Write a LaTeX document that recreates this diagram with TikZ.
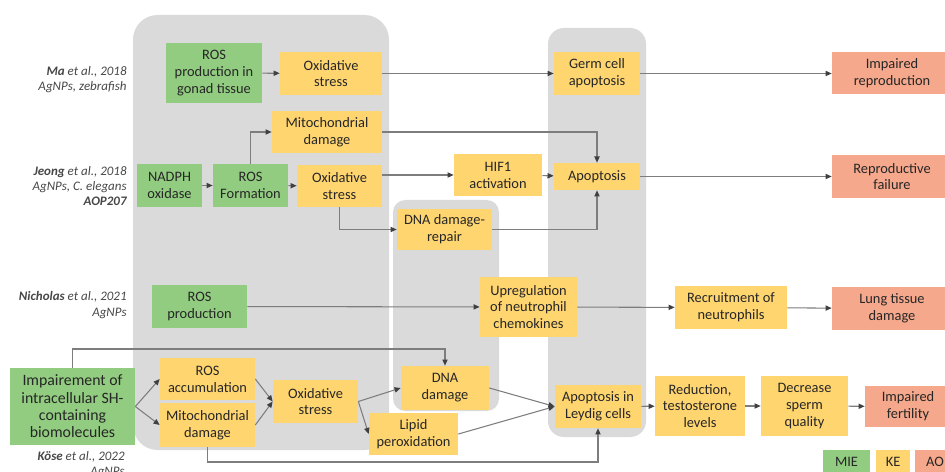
\documentclass[tikz,border=0pt]{standalone}
\usepackage{fontspec}
\setmainfont{Carlito}
\usetikzlibrary{arrows.meta}
\definecolor{miegreen}{RGB}{146,204,128}
\definecolor{keyellow}{RGB}{255,213,112}
\definecolor{aored}{RGB}{245,168,140}
\definecolor{panelgray}{RGB}{218,218,218}
\definecolor{linegray}{RGB}{125,125,125}

\begin{document}
\begin{tikzpicture}[x=0.02cm, y=-0.02cm,
  box/.style={inner sep=0, align=center, font=\fontsize{8.2}{9.6}\selectfont, text=black!85},
  mie/.style={box, fill=miegreen},
  ke/.style={box, fill=keyellow},
  ao/.style={box, fill=aored},
  arr/.style={draw=linegray, line width=0.6pt, -{Triangle[length=3.5pt, width=3pt, color=black!75]}},
  ref/.style={anchor=east, align=right, inner sep=0, font=\fontsize{7.4}{8.6}\selectfont\itshape, text=black!72}]
  \useasboundingbox (0,0) rectangle (945,472);

  % grey panels
  \fill[panelgray, rounded corners=14pt] (133,15) rectangle (389,450);
  \fill[panelgray, rounded corners=7pt] (393,200) rectangle (499,411);
  \fill[panelgray, rounded corners=9pt] (548,28) rectangle (646,437);

  % Ma et al.
  \node[mie, minimum width=1.92cm, minimum height=1.2cm] (rosgonad) at (214,73) {ROS\\production in\\gonad tissue};
  \node[ke, minimum width=2.04cm, minimum height=0.86cm] (oxtop) at (331,73.5) {Oxidative\\stress};
  \node[ke, minimum width=1.72cm, minimum height=0.86cm] (germ) at (597,73.5) {Germ cell\\apoptosis};
  \node[ao, minimum width=2.4cm, minimum height=0.84cm] (impr) at (892,73.5) {Impaired\\reproduction};

  % Jeong et al.
  \node[ke, minimum width=2.2cm, minimum height=0.84cm] (mito) at (327,132) {Mitochondrial\\damage};
  \node[mie, minimum width=1.3cm, minimum height=0.86cm] (nadph) at (169.5,185.5) {NADPH\\oxidase};
  \node[mie, minimum width=1.5cm, minimum height=0.86cm] (rosform) at (250.5,185.5) {ROS\\Formation};
  \node[ke, minimum width=1.7cm, minimum height=0.84cm] (oxmid) at (339.5,186) {Oxidative\\stress};
  \node[ke, minimum width=1.76cm, minimum height=0.84cm] (hif) at (498,175) {HIF1\\activation};
  \node[ke, minimum width=1.72cm, minimum height=0.54cm] (apop) at (597,176.5) {Apoptosis};
  \node[ke, minimum width=1.9cm, minimum height=0.82cm] (dnarep) at (444.5,229.5) {DNA damage-\\repair};
  \node[ao, minimum width=2.4cm, minimum height=0.86cm] (repfail) at (892,176.5) {Reproductive\\failure};

  % Nicholas et al.
  \node[mie, minimum width=1.9cm, minimum height=0.86cm] (rosprod) at (199.5,306.5) {ROS\\production};
  \node[ke, minimum width=1.94cm, minimum height=1.2cm] (upreg) at (528.5,307) {Upregulation\\of neutrophil\\chemokines};
  \node[ke, minimum width=2.24cm, minimum height=0.86cm] (recruit) at (731,307.5) {Recruitment of\\neutrophils};
  \node[ao, minimum width=2.4cm, minimum height=0.86cm] (lung) at (892,308.5) {Lung tissue\\damage};

  % Kose et al.
  \node[mie, minimum width=2.5cm, minimum height=1.54cm, font=\fontsize{9}{9.9}\selectfont] (impair) at (72.5,406.5)
    {Impairement of\\intracellular SH-\\containing\\biomolecules};
  \node[ke, minimum width=1.9cm, minimum height=0.84cm] (rosacc) at (207.5,379) {ROS\\accumulation};
  \node[ke, minimum width=1.9cm, minimum height=0.88cm] (mitob) at (207.5,425) {Mitochondrial\\damage};
  \node[ke, minimum width=1.7cm, minimum height=0.86cm] (oxbot) at (315.5,401.5) {Oxidative\\stress};
  \node[ke, minimum width=1.76cm, minimum height=0.88cm] (dna) at (445,388) {DNA\\damage};
  \node[ke, minimum width=1.78cm, minimum height=0.84cm] (lipid) at (413.5,434) {Lipid\\peroxidation};
  \node[ke, minimum width=1.72cm, minimum height=0.86cm] (leydig) at (598,406.5) {Apoptosis in\\Leydig cells};
  \node[ke, minimum width=1.8cm, minimum height=1.2cm] (reduc) at (700,406) {Reduction,\\testosterone\\levels};
  \node[ke, minimum width=1.74cm, minimum height=1.2cm] (decr) at (804.5,406) {Decrease\\sperm\\quality};
  \node[ao, minimum width=1.72cm, minimum height=0.82cm] (impfert) at (908,406.5) {Impaired\\fertility};

  % legend
  \node[mie, minimum width=0.94cm, minimum height=0.5cm] (legmie) at (846.5,462) {MIE};
  \node[ke, minimum width=0.68cm, minimum height=0.5cm] (legke) at (893,462) {KE};
  \node[ao, minimum width=0.8cm, minimum height=0.5cm] (legao) at (935,462) {AO};

  % references
  \node[ref] (refma) at (127,79.5) {\textbf{Ma} et al., 2018\\AgNPs, zebrafish};
  \node[ref] (refjeong) at (127,186) {\textbf{Jeong} et al., 2018\\AgNPs, C. elegans\\\textbf{AOP207}};
  \node[ref] (refnich) at (127,305) {\textbf{Nicholas} et al., 2021\\AgNPs};
  \node[ref] (refkose) at (125,465) {\textbf{Köse} et al., 2022\\AgNPs};

  % connectors
  \draw[arr] (rosgonad) -- (oxtop);
  \draw[arr] (oxtop) -- (germ);
  \draw[arr] (germ) -- (impr);
  \draw[arr] (nadph) -- (rosform);
  \draw[arr] (rosform.north) |- (mito.west);
  \draw[arr] (rosform) -- (oxmid);
  \draw[arr] (mito.east) -| (apop.north);
  \draw[arr] (oxmid.east |- hif.west) -- (hif.west);
  \draw[arr] (hif) -- (apop);
  \draw[arr] (oxmid.south) |- (dnarep.west);
  \draw[arr] (dnarep.east) -| (apop.south);
  \draw[arr] (apop) -- (repfail);
  \draw[arr] (rosprod) -- (upreg);
  \draw[arr] (upreg) -- (recruit);
  \draw[arr] (recruit) -- (lung);
  \draw[arr] (impair.north) -- (impair.north |- 0,349) -| (dna.north);
  \draw[arr] (impair.east) -- (rosacc.west);
  \draw[arr] (impair.east) -- (mitob.west);
  \draw[arr] (rosacc.east) -- (oxbot.west);
  \draw[arr] (mitob.east) -- (oxbot.west);
  \draw[arr] (oxbot.east) -- (dna.west);
  \draw[arr] (oxbot.east) -- (lipid.west);
  \draw[arr] (dna.east) -- (leydig.west);
  \draw[arr] (lipid.east) -- (leydig.west);
  \draw[arr] (mitob.south) -- (mitob.south |- 0,462) -| (leydig.south);
  \draw[arr] (leydig) -- (reduc);
  \draw[arr] (reduc) -- (decr);
  \draw[arr] (decr) -- (impfert);

\end{tikzpicture}
\end{document}
